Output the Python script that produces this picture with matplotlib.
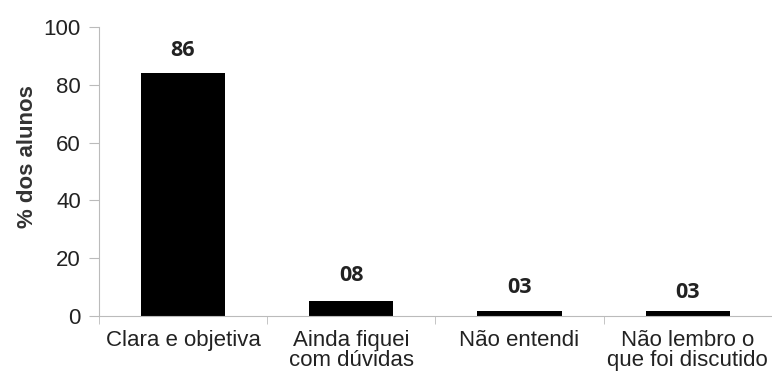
import matplotlib.pyplot as plt
import numpy as np

categories = ["Clara e objetiva", "Ainda fiquei\ncom dúvidas", "Não entendi", "Não lembro o\nque foi discutido"]
bar_heights = [84, 5.2, 1.8, 1.8]  # heights as drawn
labels = ["86", "08", "03", "03"]
label_y = [92, 14, 10, 8]

plt.rcParams["font.family"] = ["Liberation Sans", "DejaVu Sans"]

fig = plt.figure(figsize=(7.72, 3.79), dpi=100)
ax = fig.add_axes([0.128, 0.166, 0.872, 0.763])

x = np.arange(len(categories))
ax.bar(x, bar_heights, width=0.5, color="black")

for xi, lab, ly in zip(x, labels, label_y):
    ax.text(xi, ly, lab, ha="center", va="center", fontsize=15.5,
            fontweight="bold", color="#222222", family="Open Sans")

ax.set_xlim(-0.5, len(categories) - 0.5)
ax.set_ylim(0, 100)
ax.set_yticks(range(0, 101, 20))
ax.set_xticks(np.arange(-0.5, len(categories), 1.0), minor=True)
ax.set_xticks(x)
ax.set_xticklabels(categories, fontsize=16, color="#222222", linespacing=0.95)
ax.tick_params(axis="x", which="major", length=0, pad=10)
ax.tick_params(axis="x", which="minor", length=6, color="#bbbbbb")
ax.tick_params(axis="y", labelsize=16, labelcolor="#222222", length=7,
               color="#bbbbbb", pad=6)
ax.set_ylabel("% dos alunos", fontsize=16, fontweight="bold", color="#333333")
ax.yaxis.set_label_coords(-0.09, 0.553)

for side in ["top", "right"]:
    ax.spines[side].set_visible(False)
for side in ["left", "bottom"]:
    ax.spines[side].set_color("#bbbbbb")

fig.savefig("out.png", dpi=100)
